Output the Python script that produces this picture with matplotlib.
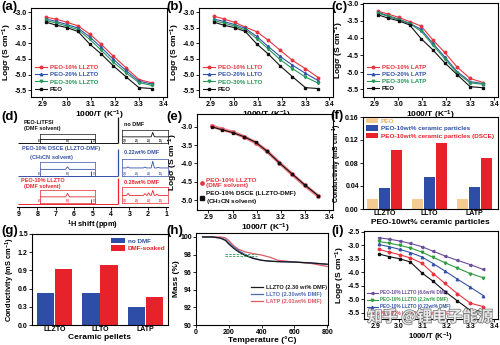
import matplotlib
matplotlib.use('Agg')
import matplotlib.pyplot as plt
import matplotlib.patheffects as pe

plt.rcParams['font.family'] = ['Liberation Sans', 'DejaVu Sans']
plt.rcParams['font.weight'] = 'bold'
plt.rcParams['axes.labelweight'] = 'bold'
plt.rcParams['axes.unicode_minus'] = False
plt.rcParams['mathtext.fontset'] = 'custom'
plt.rcParams['mathtext.rm'] = 'Liberation Sans:bold'
plt.rcParams['mathtext.bf'] = 'Liberation Sans:bold'
plt.rcParams['mathtext.it'] = 'Liberation Sans:bold'
plt.rcParams['mathtext.default'] = 'bf'

# ---------------- data ----------------
inv_T = [2.914, 2.957, 3.002, 3.047, 3.095, 3.143, 3.193, 3.245, 3.299, 3.354]
peo = [-3.32, -3.42, -3.50, -3.62, -4.02, -4.34, -4.72, -5.07, -5.42, -5.45]

llzto_10 = [-3.16, -3.23, -3.33, -3.44, -3.70, -4.03, -4.41, -4.78, -5.16, -5.27]
llzto_20 = [-3.22, -3.30, -3.40, -3.51, -3.79, -4.13, -4.51, -4.87, -5.21, -5.31]
llzto_30 = [-3.27, -3.35, -3.45, -3.56, -3.87, -4.22, -4.60, -4.94, -5.26, -5.35]

llto_10 = [-3.13, -3.22, -3.33, -3.48, -3.63, -3.90, -4.22, -4.55, -4.81, -5.10]
llto_20 = [-3.22, -3.30, -3.40, -3.52, -3.78, -4.10, -4.42, -4.70, -4.96, -5.20]
llto_30 = [-3.27, -3.35, -3.45, -3.57, -3.85, -4.18, -4.52, -4.81, -5.08, -5.28]

latp_10 = [-3.22, -3.30, -3.40, -3.52, -3.65, -4.05, -4.42, -4.85, -5.18, -5.30]
latp_20 = [-3.25, -3.35, -3.45, -3.57, -3.75, -4.15, -4.55, -4.98, -5.27, -5.33]
latp_30 = [-3.27, -3.37, -3.47, -3.58, -3.80, -4.20, -4.60, -5.02, -5.31, -5.35]

e_dmf = [-2.98, -3.07, -3.15, -3.27, -3.43, -3.67, -3.98, -4.29, -4.60, -4.89]
e_dsce = [-3.00, -3.08, -3.16, -3.27, -3.42, -3.67, -3.98, -4.28, -4.59, -4.88]

f_groups = ['LLZTO', 'LLTO', 'LATP']
f_peo = [0.018, 0.018, 0.018]
f_ceramic = [0.037, 0.056, 0.039]
f_dsce = [0.103, 0.115, 0.088]

g_groups = ['LLZTO', 'LLTO', 'LATP']
g_nodmf = [0.52, 0.52, 0.29]
g_soaked = [0.93, 0.99, 0.46]

tga_T = [40, 100, 150, 180, 200, 230, 260, 300, 350, 400, 450, 500, 600, 700, 800]
tga_llzto = [100, 100, 99.85, 99.6, 99.2, 98.7, 98.3, 97.9, 97.55, 97.35, 97.25, 97.2, 97.15, 97.05, 96.9]
tga_llto = [100, 100, 99.9, 99.7, 99.35, 98.85, 98.45, 98.0, 97.6, 97.35, 97.25, 97.2, 97.15, 97.05, 96.9]
tga_latp = [100, 100, 100, 99.9, 99.6, 99.0, 98.6, 98.3, 98.1, 97.95, 97.7, 97.35, 97.15, 97.0, 96.65]
tga_marks = [97.8, 98.05]
tga_marks_T = [178, 370]

i_86 = [-2.72, -2.77, -2.84, -2.93, -3.05, -3.22, -3.40, -3.56, -3.72, -3.90]
i_22 = [-2.86, -2.92, -3.00, -3.10, -3.25, -3.45, -3.65, -3.85, -4.05, -4.21]
i_022 = [-2.97, -3.05, -3.15, -3.27, -3.43, -3.68, -3.96, -4.26, -4.56, -4.87]
i_028 = [-3.15, -3.25, -3.35, -3.47, -3.66, -4.05, -4.42, -4.80, -5.15, -5.28]

nmr_ticks = [9, 8, 7, 6, 5, 4, 3, 2, 1]
peo_peak_ppm = 3.62
peo_peak_height = [0.92, 0.97, 0.93]
minor_peak_ppm = 5.1
minor_peak_height = [0.12, 0.2, 0.2]
left_ticks = [8.1, 8.0, 7.9]
left_peaks = [[], [(8.0, 0.35)], [(8.0, 0.5)]]
right_ticks = [3.0, 2.5, 2.0, 1.5]
right_peaks = [[(1.83, 0.65)],
               [(2.85, 0.12), (2.15, 0.1), (1.83, 0.75), (1.6, 0.06)],
               [(2.85, 0.25), (2.15, 0.22), (2.0, 0.3), (1.83, 0.6), (1.65, 0.15)]]

# ---------------- layout helpers ----------------
W, H = 500, 345
fig = plt.figure(figsize=(W / 100, H / 100), dpi=100)

TICK_FS = 5.0
LAB_FS = 6.0


def rect(l, t, r, b):
    return [l / W, 1 - b / H, (r - l) / W, (b - t) / H]


def ftext(x, y, s, **kw):
    return fig.text(x / W, 1 - y / H, s, **kw)


def style(ax, ls=TICK_FS):
    for s in ax.spines.values():
        s.set_linewidth(0.8)
    ax.tick_params(direction='out', length=2, width=0.6, pad=1.0, labelsize=ls)


RED, BLUE, GREEN, BLACK = '#E8343E', '#3553A8', '#25985A', '#111111'

LOG_LABEL = 'Logσ (S cm$^{-1}$)'
T_LABEL = '1000/T (K$^{-1}$)'


def cond_axes(box, ylim):
    ax = fig.add_axes(rect(*box))
    style(ax)
    ax.set_xlim(2.853, 3.415)
    ax.set_ylim(*ylim)
    ax.set_xticks([2.9, 3.0, 3.1, 3.2, 3.3, 3.4])
    ax.set_xlabel(T_LABEL, fontsize=LAB_FS, labelpad=0.5)
    ax.set_ylabel(LOG_LABEL, fontsize=LAB_FS, labelpad=0.5)
    return ax


def color_legend(leg, colors):
    for t, c in zip(leg.get_texts(), colors):
        t.set_color(c)


def four_series(ax, s10, s20, s30, names, anchor):
    cols = [RED, BLUE, GREEN, BLACK]
    marks = ['o', '^', 'v', 's']
    for y, n, c, m in zip([s10, s20, s30, peo], names, cols, marks):
        ax.plot(inv_T, y, color=c, marker=m, ms=1.8, lw=0.8, label=n)
    ax.set_yticks([-3.0, -3.5, -4.0, -4.5, -5.0, -5.5])
    leg = ax.legend(loc='lower left', bbox_to_anchor=anchor, frameon=False,
                    fontsize=4.4, handlelength=2.0, handletextpad=0.4,
                    labelspacing=0.3, borderpad=0, borderaxespad=0)
    color_legend(leg, cols)


# (a)
ax = cond_axes((31, 8, 167, 97), (-5.72, -2.87))
four_series(ax, llzto_10, llzto_20, llzto_30,
            ['PEO-10% LLZTO', 'PEO-20% LLZTO', 'PEO-30% LLZTO', 'PEO'], (0.03, 0.06))
# (b)
ax = cond_axes((199, 8, 333, 97), (-5.72, -2.87))
four_series(ax, llto_10, llto_20, llto_30,
            ['PEO-10% LLTO', 'PEO-20% LLTO', 'PEO-30% LLTO', 'PEO'], (0.03, 0.06))
# (c)
ax = cond_axes((363, 3, 498, 97), (-5.72, -2.98))
four_series(ax, latp_10, latp_20, latp_30,
            ['PEO-10% LATP', 'PEO-20% LATP', 'PEO-30% LATP', 'PEO'], (0.03, 0.06))

# (d) NMR
axd = fig.add_axes(rect(17, 115, 168, 207))
style(axd)
for s in ['top', 'right', 'left']:
    axd.spines[s].set_visible(False)
axd.set_yticks([])
axd.set_xlim(9.1, 0.9)
axd.set_ylim(0, 3.3)
axd.set_xticks(nmr_ticks)
axd.set_xlabel('$^1$H shift (ppm)', fontsize=5.4, labelpad=0.5)
axd.patch.set_alpha(0)
nmr_colors = [BLACK, '#3451A8', '#E8262E']
nmr_offsets = [2.3, 1.1, 0.1]
for i, c in enumerate(nmr_colors):
    off = nmr_offsets[i]
    axd.hlines(off, 9.05, 3.62, color=c, lw=0.7)
    axd.vlines(peo_peak_ppm, off, off + peo_peak_height[i], color=c, lw=0.9)
    axd.vlines(minor_peak_ppm, off, off + minor_peak_height[i], color=c, lw=0.7)

left_boxes = [(40, 134, 95, 143), (40, 162, 95, 176), (40, 190, 95, 203)]
right_boxes = [(122, 130, 168, 143), (122, 159, 168, 176), (122, 187, 168, 203)]


def inset(box, lo, hi, ticks, peaks, c):
    ia = fig.add_axes(rect(*box))
    ia.set_xlim(hi, lo)
    ia.set_ylim(-0.9, 1.0)
    xs = [hi]
    ys = [0]
    w = 0.035 * (hi - lo)
    for p, h in sorted(peaks, reverse=True):
        xs += [p + w, p, p - w]
        ys += [0, h, 0]
    xs.append(lo)
    ys.append(0)
    ia.plot(xs, ys, color=c, lw=0.6)
    ia.set_yticks([])
    ia.set_xticks(ticks)
    ia.tick_params(direction='in', length=1, width=0.4, pad=-3.2, labelsize=2.0, colors=c)
    for s in ia.spines.values():
        s.set_color(c)
        s.set_linewidth(0.5)
    ia.patch.set_alpha(0)


for i, c in enumerate(nmr_colors):
    inset(left_boxes[i], 7.9, 8.1, left_ticks, left_peaks[i], c)
    inset(right_boxes[i], 1.2, 3.1, right_ticks, right_peaks[i], c)

nmr_names = ['PEO-LiTFSI\n(DMF solvent)', 'PEO-10% DSCE (LLZTO-DMF)\n     (CH$_3$CN solvent)',
             'PEO-10% LLZTO\n  (DMF solvent)']
nmr_dmf = ['no DMF', '0.22wt% DMF', '0.28wt% DMF']
name_pos = [(24, 125), (22, 154), (21, 183)]
dmf_pos = [(124, 124), (124, 153), (124, 182)]
for i, c in enumerate(nmr_colors):
    ftext(*name_pos[i], nmr_names[i], color=c, fontsize=4.0, va='center', ha='left', linespacing=1.25)
    ftext(*dmf_pos[i], nmr_dmf[i], color=c, fontsize=4.0, va='center', ha='left')

# (e)
ax = cond_axes((197, 114, 333, 210), (-5.27, -2.65))
ax.set_yticks([-3.0, -3.5, -4.0, -4.5, -5.0])
ax.plot(inv_T, e_dmf, color='#E8505A', lw=2.4, alpha=0.75, marker='o', ms=2.6)
ax.plot(inv_T, e_dsce, color=BLACK, lw=0.8, marker='s', ms=1.8)
h1 = plt.Line2D([], [], color='#E8343E', marker='o', ms=2.4, lw=0)
h2 = plt.Line2D([], [], color=BLACK, marker='s', ms=2.4, lw=0)
leg = ax.legend([h1, h2], ['PEO-10% LLZTO\n(DMF solvent)', 'PEO-10% DSCE (LLZTO-DMF)\n(CH$_3$CN solvent)'],
                loc='lower left', bbox_to_anchor=(0.02, 0.04), frameon=False, fontsize=4.6,
                handlelength=0.6, handletextpad=0.4, labelspacing=0.4, borderpad=0, borderaxespad=0)
color_legend(leg, ['#E8343E', BLACK])

# (f)
TAN, FBLUE, FRED = '#F6CB92', '#2E4DA7', '#E8222B'
axf = fig.add_axes(rect(363, 117, 498, 209))
style(axf)
xs = range(len(f_groups))
bw = 0.25
axf.bar([x - 0.27 for x in xs], f_peo, bw, color=TAN, label='PEO')
axf.bar(list(xs), f_ceramic, bw, color=FBLUE, label='PEO-10wt% ceramic particles')
axf.bar([x + 0.27 for x in xs], f_dsce, bw, color=FRED, label='PEO-10wt% ceramic particles (DSCE)')
axf.set_xlim(-0.48, 2.52)
axf.set_ylim(0, 0.16)
axf.set_yticks([0.00, 0.04, 0.08, 0.12, 0.16])
axf.set_yticklabels(['0.00', '0.04', '0.08', '0.12', '0.16'])
axf.set_xticks(list(xs))
axf.set_xticklabels(f_groups)
axf.tick_params(axis='x', length=0)
axf.set_xlabel('PEO-10wt% ceramic particles', fontsize=LAB_FS, labelpad=1)
axf.set_ylabel('Conductivity (mS cm$^{-1}$)', fontsize=5.0, labelpad=0.5)
leg = axf.legend(loc='upper left', bbox_to_anchor=(0.02, 0.99), frameon=False, fontsize=4.6,
                 handlelength=2.0, handleheight=0.9, handletextpad=0.4, labelspacing=0.25,
                 borderpad=0, borderaxespad=0)
color_legend(leg, ['#F0B060', FBLUE, FRED])

# (g)
axg = fig.add_axes(rect(32, 234, 168, 325))
style(axg)
xs = range(len(g_groups))
axg.bar([x - 0.2 for x in xs], g_nodmf, 0.38, color=FBLUE, label='no DMF')
axg.bar([x + 0.2 for x in xs], g_soaked, 0.38, color=FRED, label='DMF-soaked')
axg.set_xlim(-0.5, 2.5)
axg.set_ylim(0, 1.5)
axg.set_yticks([0.0, 0.3, 0.6, 0.9, 1.2, 1.5])
axg.set_xticks(list(xs))
axg.set_xticklabels(g_groups)
axg.tick_params(axis='x', length=0)
axg.set_xlabel('Ceramic pellets', fontsize=LAB_FS, labelpad=0.3)
axg.set_ylabel('Conductivity (mS cm$^{-1}$)', fontsize=5.4, labelpad=0.5)
leg = axg.legend(loc='upper right', bbox_to_anchor=(0.98, 0.96), frameon=False, fontsize=4.6,
                 handlelength=2.2, handleheight=1.0, handletextpad=0.4, labelspacing=0.25,
                 borderpad=0, borderaxespad=0)
color_legend(leg, [FBLUE, FRED])

# (h)
axh = fig.add_axes(rect(196, 233, 328, 325))
style(axh)
axh.plot(tga_T, tga_latp, color='#E05A64', lw=0.9, label='LATP (2.01wt% DMF)')
axh.plot(tga_T, tga_llto, color='#4A6AB8', lw=0.9, label='LLTO (2.30wt% DMF)')
axh.plot(tga_T, tga_llzto, color='#1A1A1A', lw=0.9, label='LLZTO (2.30 wt% DMF)')
for m in tga_marks:
    axh.hlines(m, tga_marks_T[0], tga_marks_T[1], color='#3A9A5A', lw=0.6, linestyles=(0, (3, 1.5)))
axh.set_xlim(0, 805)
axh.set_ylim(90, 100.45)
axh.set_xticks([0, 200, 400, 600, 800])
axh.set_yticks([90, 92, 94, 96, 98, 100])
axh.set_xlabel('Temperature (°C)', fontsize=LAB_FS, labelpad=0.3)
axh.set_ylabel('Mass (%)', fontsize=LAB_FS, labelpad=0.5)
hs, ls = axh.get_legend_handles_labels()
leg = axh.legend(hs[::-1], ls[::-1], loc='lower right', bbox_to_anchor=(0.99, 0.23), frameon=False,
                 fontsize=4.1, handlelength=2.2, handletextpad=0.4, labelspacing=0.35,
                 borderpad=0, borderaxespad=0)
color_legend(leg, ['#1A1A1A', '#4A6AB8', '#E05A64'])

# (i)
ax = cond_axes((364, 231, 498, 319), (-5.74, -2.47))
ax.set_xlabel(T_LABEL, fontsize=5.6, labelpad=0.2)
ax.set_yticks([-2.5, -3.0, -3.5, -4.0, -4.5, -5.0, -5.5])
i_cols = ['#6A4C9C', '#2E9A3E', '#3553A8', RED]
i_marks = ['<', 'v', '^', 'o']
i_names = ['PEO-10% LLZTO (8.6wt% DMF)', 'PEO-10% LLZTO (2.2wt% DMF)',
           'PEO-10% LLZTO (0.22wt% DMF)', 'PEO-10% LLZTO (0.28wt% DMF)']
for y, n, c, m in zip([i_86, i_22, i_022, i_028], i_names, i_cols, i_marks):
    ax.plot(inv_T, y, color=c, marker=m, ms=1.8, lw=0.8, label=n)
ax.plot(inv_T, peo, color=BLACK, marker='s', ms=1.8, lw=0.8)
leg = ax.legend(loc='lower left', bbox_to_anchor=(0.02, 0.03), frameon=False, fontsize=3.3,
                handlelength=2.4, handletextpad=0.4, labelspacing=0.45, borderpad=0, borderaxespad=0)
color_legend(leg, i_cols)
ftext(430, 317, '知乎 @锂电子能源', fontsize=11, ha='center', va='center',
      family=['Noto Sans CJK SC', 'DejaVu Sans'], color='#f2f2f2', alpha=0.9,
      path_effects=[pe.withStroke(linewidth=1.0, foreground='#666666')])

# panel labels
for s, (x, y) in zip(['(a)', '(b)', '(c)', '(d)', '(e)', '(f)', '(g)', '(h)', '(i)'],
                     [(1, 7), (166, 7), (331, 7), (1, 117), (166, 117), (330, 116),
                      (1, 231), (166, 231), (331, 231)]):
    ftext(x, y, s, fontsize=9.5, fontweight='bold', ha='left', va='center')

fig.savefig('out.png', dpi=100)
